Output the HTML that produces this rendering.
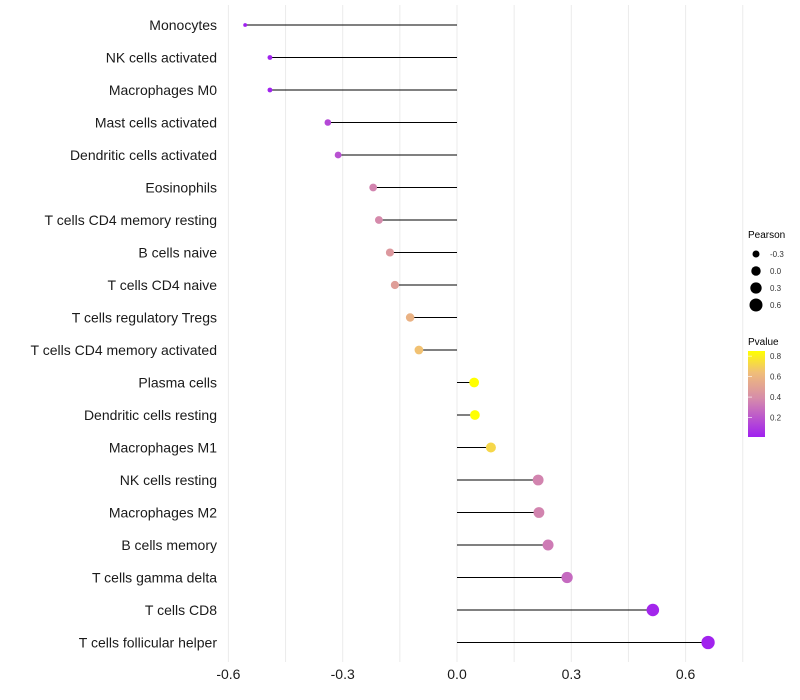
<!DOCTYPE html>
<html><head><meta charset="utf-8"><style>
body{margin:0;background:#fff}
svg{display:block;font-family:"Liberation Sans",sans-serif}
</style></head><body>
<svg id="chart" width="800" height="700"></svg>
<script>
const categories=["Monocytes","NK cells activated","Macrophages M0","Mast cells activated","Dendritic cells activated","Eosinophils","T cells CD4 memory resting","B cells naive","T cells CD4 naive","T cells regulatory  Tregs ","T cells CD4 memory activated","Plasma cells","Dendritic cells resting","Macrophages M1","NK cells resting","Macrophages M2","B cells memory","T cells gamma delta","T cells CD8","T cells follicular helper"];
const pearson=[-0.556,-0.491,-0.491,-0.339,-0.312,-0.220,-0.205,-0.176,-0.163,-0.123,-0.100,0.045,0.047,0.089,0.213,0.215,0.239,0.289,0.514,0.659];
const pvalue=[0.01,0.02,0.02,0.15,0.18,0.36,0.38,0.45,0.48,0.58,0.65,0.86,0.87,0.72,0.36,0.36,0.33,0.27,0.03,0.02];
const xTicks=[-0.6,-0.3,0.0,0.3,0.6];
const xTickLabels=["-0.6","-0.3","0.0","0.3","0.6"];
const sizeLegend=[-0.3,0.0,0.3,0.6];
const colorLegend=[0.8,0.6,0.4,0.2];
const NS="http://www.w3.org/2000/svg";
const svg=document.getElementById('chart');
const x=v=>457+v*381;
const y=i=>25+i*32.5;
const r=v=>Math.sqrt(Math.max(1,22.2+33.3*v));
function lerp(a,b,t){return a.map((c,k)=>Math.round(c+(b[k]-c)*t));}
function col(p){const t=Math.max(0,Math.min(1,(p-0.01)/0.84));
 const A=[160,32,240],M=[214,140,170],O=[240,190,120],Y=[255,255,0];
 let c;
 if(t<0.45)c=lerp(A,M,t/0.45);else if(t<0.75)c=lerp(M,O,(t-0.45)/0.3);else c=lerp(O,Y,(t-0.75)/0.25);
 return `rgb(${c})`;}
function el(t,a,txt){const e=document.createElementNS(NS,t);for(const k in a)e.setAttribute(k,a[k]);if(txt!=null)e.textContent=txt;svg.appendChild(e);return e;}
for(let v=-0.6;v<=0.76;v+=0.15){const g=el('line',{x1:x(v),x2:x(v),y1:5,y2:662,stroke:'#ebebeb','stroke-width':1});

}
categories.forEach((c,i)=>{
 const l=el('line',{x1:x(0),x2:x(pearson[i]),y1:y(i),y2:y(i),stroke:'#000','stroke-width':1});
 
 
 const d=el('circle',{cx:x(pearson[i]),cy:y(i),r:r(pearson[i]),fill:col(pvalue[i])});
 
 
 const t=el('text',{x:217,y:y(i)+5,'text-anchor':'end','font-size':14,fill:'#1a1a1a'},c);
 
 
});
xTicks.forEach((v,i)=>{const t=el('text',{x:x(v),y:679,'text-anchor':'middle','font-size':14,fill:'#1a1a1a'},xTickLabels[i]);

});
let t=el('text',{x:748,y:238,'font-size':10,fill:'#000'},'Pearson');


sizeLegend.forEach((v,i)=>{const cy=254+i*17;
 const c=el('circle',{cx:756,cy:cy,r:r(v),fill:'#000'});
 
 
 const tt=el('text',{x:770,y:cy+3,'font-size':8,fill:'#333'},v.toFixed(1));
 
 });
const defs=el('defs',{});
const lg=document.createElementNS(NS,'linearGradient');lg.setAttribute('id','pg');lg.setAttribute('x1',0);lg.setAttribute('x2',0);lg.setAttribute('y1',1);lg.setAttribute('y2',0);
for(let k=0;k<=20;k++){const s=document.createElementNS(NS,'stop');const p=0.01+0.84*k/20;s.setAttribute('offset',k/20);s.setAttribute('stop-color',col(p));lg.appendChild(s);}
defs.appendChild(lg);
t=el('text',{x:748,y:345,'font-size':10,fill:'#000'},'Pvalue');


const bar=el('rect',{x:748,y:351,width:17,height:86,fill:'url(#pg)'});


colorLegend.forEach(p=>{const yy=437-(p-0.01)/0.84*86;
 const tk=el('line',{x1:748,x2:752,y1:yy,y2:yy,stroke:'#fff','stroke-width':0.6});
 
 
 const tt=el('text',{x:770,y:yy+3,'font-size':8,fill:'#333'},p.toFixed(1));
 
 });
</script>
</body></html>
